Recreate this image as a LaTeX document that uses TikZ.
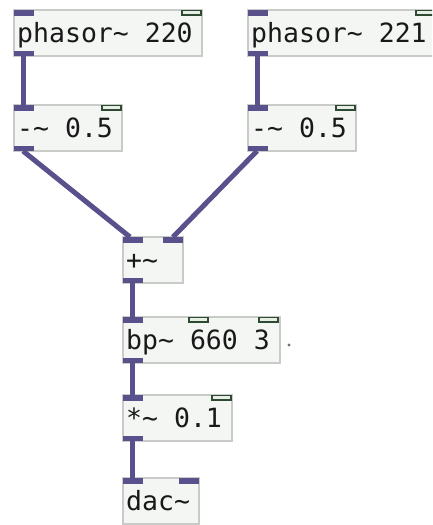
\documentclass[tikz,border=0pt]{standalone}
\usepackage{fontspec}
\newfontfamily\pdfont{DejaVu Sans Mono}
\usetikzlibrary{calc}
\definecolor{wirecol}{HTML}{58518C}
\definecolor{ctledge}{HTML}{2F4A33}
\definecolor{ctlfill}{HTML}{E6EEE6}
\definecolor{boxedge}{HTML}{C9CBC9}
\definecolor{boxfill}{HTML}{F4F6F4}
\tikzset{
  pdobj/.style={draw=boxedge, fill=boxfill, line width=1.2pt, rectangle,
    anchor=north west, minimum height=46pt, inner sep=0pt, outer sep=0pt},
  pdtext/.style={font=\pdfont\fontsize{26.5pt}{30pt}\selectfont, anchor=base west,
    inner sep=0pt, text=black!90},
  wire/.style={draw=wirecol, line width=5pt},
  sigport/.style={fill=wirecol},
  ctlport/.style={draw=ctledge, fill=ctlfill, line width=1.3pt}
}
% an object box: name, top-left x, top-left y, width, label
\newcommand{\pdobject}[5]{%
  \node[pdobj, minimum width=#4pt] (#1) at (#2,#3) {};
  \node[pdtext] (#1-label) at ($(#1.north west)+(3,32.5)$) {#5};
}
% ports: signal (filled) or control (hollow) on top, signal outlet at bottom
\newcommand{\siginlet}[2]{\fill[sigport] ($(#1.north west)+(#2,0)$) rectangle ++(20,5.5);}
\newcommand{\ctlinlet}[2]{\draw[ctlport] ($(#1.north west)+(#2,0.8)$) rectangle ++(19,4.2);}
\newcommand{\sigoutlet}[1]{\fill[sigport] ($(#1.south west)$) rectangle ++(20,-5.5);}
\begin{document}
\begin{tikzpicture}[x=1pt,y=-1pt]
\useasboundingbox (0,0) rectangle (432,525);
\fill[white] (0,0) rectangle (432,525);
\clip (0,0) rectangle (432,525);

\pdobject{p1}{14}{10}{188}{phasor\textasciitilde{} 220}
\pdobject{m1}{14}{105}{108}{-\textasciitilde{} 0.5}
\pdobject{p2}{248}{10}{190}{phasor\textasciitilde{} 221}
\pdobject{m2}{248}{105}{108}{-\textasciitilde{} 0.5}
\pdobject{add}{123}{237}{60}{+\textasciitilde}
\pdobject{bp}{123}{317}{157}{bp\textasciitilde{} 660 3}
\pdobject{mul}{123}{395}{109}{*\textasciitilde{} 0.1}
\pdobject{dac}{123}{478}{76}{dac\textasciitilde}

% connections
\draw[wire] ($(p1.south west)+(9,0)$) -- ($(m1.north west)+(9,0)$);
\draw[wire] ($(p2.south west)+(9,0)$) -- ($(m2.north west)+(9,0)$);
\draw[wire] ($(m1.south west)+(9,0)$) -- ($(add.north west)+(7,0)$);
\draw[wire] ($(m2.south west)+(9,0)$) -- ($(add.north east)+(-10,0)$);
\draw[wire] ($(add.south west)+(9,0)$) -- ($(bp.north west)+(9,0)$);
\draw[wire] ($(bp.south west)+(9,0)$) -- ($(mul.north west)+(9,0)$);
\draw[wire] ($(mul.south west)+(9,0)$) -- ($(dac.north west)+(9,0)$);

% ports
\siginlet{p1}{0} \ctlinlet{p1}{168} \sigoutlet{p1}
\siginlet{m1}{0} \ctlinlet{m1}{88} \sigoutlet{m1}
\siginlet{p2}{0} \ctlinlet{p2}{168} \sigoutlet{p2}
\siginlet{m2}{0} \ctlinlet{m2}{88} \sigoutlet{m2}
\siginlet{add}{0} \siginlet{add}{40} \sigoutlet{add}
\siginlet{bp}{0} \ctlinlet{bp}{66} \ctlinlet{bp}{136} \sigoutlet{bp}
\siginlet{mul}{0} \ctlinlet{mul}{89} \sigoutlet{mul}
\siginlet{dac}{0} \siginlet{dac}{56}

% stray dot beside bp~
\fill[black!55] (289,345) circle (1.6);
\end{tikzpicture}
\end{document}
